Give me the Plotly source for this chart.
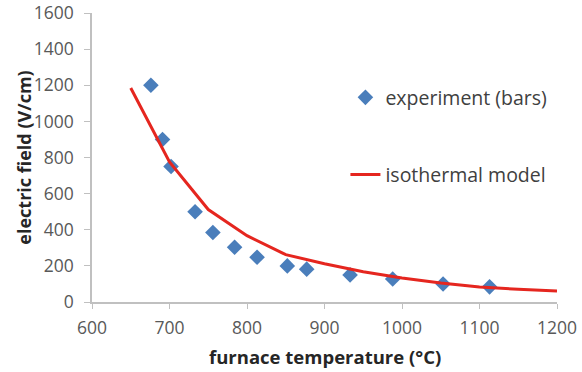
import plotly.graph_objects as go

exp_temp = [676, 691, 702, 733, 756, 784, 813, 852, 877, 933, 988, 1053, 1113]
exp_field = [1200, 900, 750, 500, 385, 303, 248, 200, 182, 150, 127, 100, 84]

model_temp = [650, 700, 750, 800, 850, 900, 950, 1000, 1050, 1100, 1150, 1200]
model_field = [1185, 775, 512, 367, 262, 212, 167, 133, 105, 83, 70, 61]

x_ticks = [600, 700, 800, 900, 1000, 1100, 1200]
y_ticks = [0, 200, 400, 600, 800, 1000, 1200, 1400, 1600]

x_title = "furnace temperature (°C)"
y_title = "electric field (V/cm)"

font_family = "Open Sans, Liberation Sans, sans-serif"

fig = go.Figure()
fig.add_trace(go.Scatter(
    x=exp_temp, y=exp_field, mode="markers", name="experiment (bars)",
    marker=dict(symbol="diamond", size=12, color="#4a7ebb"),
    legend="legend",
))
fig.add_trace(go.Scatter(
    x=model_temp, y=model_field, mode="lines", name="isothermal model",
    line=dict(color="#e5261f", width=3),
    legend="legend2",
))

fig.update_layout(
    width=582, height=372,
    margin=dict(l=92, r=25, t=13, b=70),
    plot_bgcolor="white", paper_bgcolor="white",
    font=dict(family=font_family, size=17, color="#404040"),
    showlegend=True,
    legend=dict(x=0.545, y=0.707, xanchor="left", yanchor="middle",
                bgcolor="rgba(0,0,0,0)", font=dict(size=19.5, color="#404040")),
    legend2=dict(x=0.545, y=0.44, xanchor="left", yanchor="middle",
                 bgcolor="rgba(0,0,0,0)", font=dict(size=19.5, color="#404040")),
    xaxis=dict(
        range=[600, 1200], tickvals=x_ticks, ticktext=[str(v) for v in x_ticks],
        showgrid=False, zeroline=False, showline=True, linecolor="#c0c0c0", linewidth=1.5,
        ticks="outside", ticklen=5, tickcolor="#c0c0c0", ticklabelstandoff=4,
        tickfont=dict(size=17.5, color="#595959"), automargin=False,
    ),
    yaxis=dict(
        range=[0, 1600], tickvals=y_ticks, ticktext=[str(v) for v in y_ticks],
        showgrid=False, zeroline=False, showline=True, linecolor="#c0c0c0", linewidth=1.5,
        ticks="outside", ticklen=6, tickcolor="#c0c0c0", ticklabelstandoff=7,
        tickfont=dict(size=17.5, color="#595959"), automargin=False,
    ),
    annotations=[
        dict(text="<b>" + x_title + "</b>", xref="paper", yref="paper",
             x=0.5, y=-0.19, xanchor="center", yanchor="middle", showarrow=False,
             font=dict(size=18.5, color="#262626")),
        dict(text="<b>" + y_title + "</b>", xref="paper", yref="paper",
             x=-0.148, y=0.5, xanchor="center", yanchor="middle", showarrow=False,
             textangle=-90, font=dict(size=18, color="#262626")),
    ],
)

fig.write_html("out.html", config={"displayModeBar": False},
               post_script="document.body.style.margin='0';")
